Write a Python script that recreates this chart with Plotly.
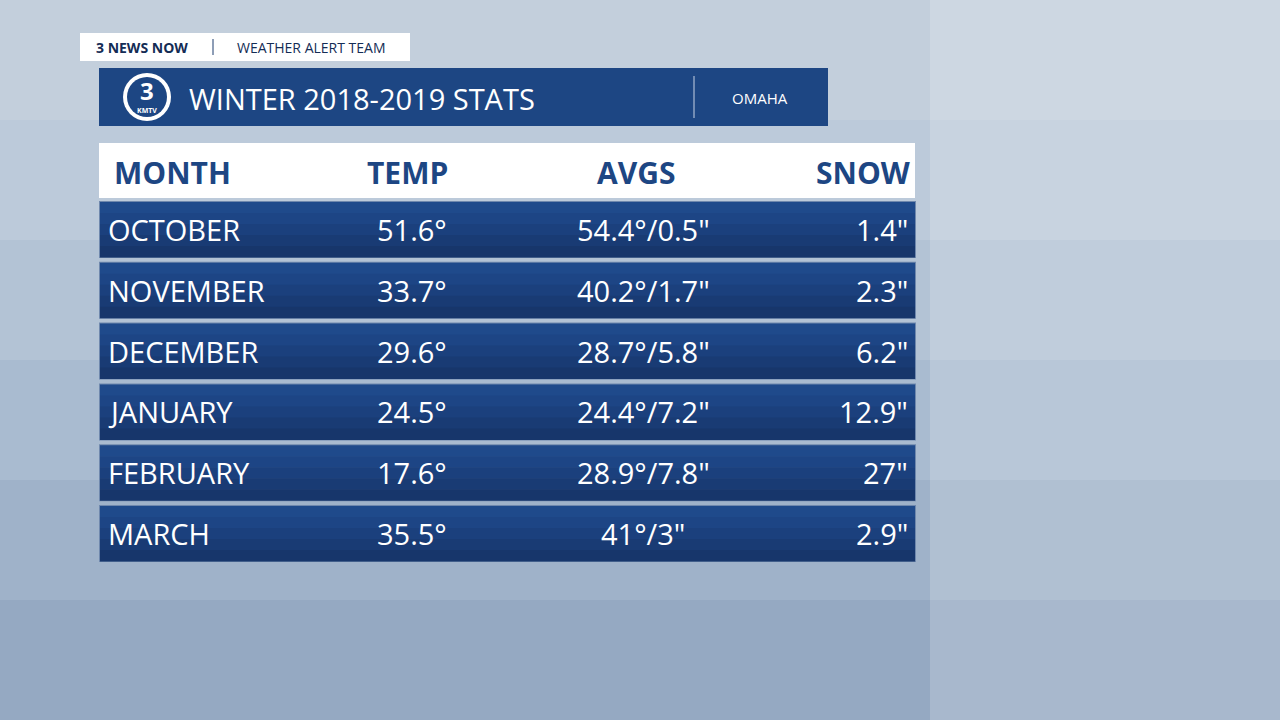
import plotly.graph_objects as go

months = ["OCTOBER", "NOVEMBER", "DECEMBER", "JANUARY", "FEBRUARY", "MARCH"]
temps = ["51.6°", "33.7°", "29.6°", "24.5°", "17.6°", "35.5°"]
avgs = ['54.4°/0.5"', '40.2°/1.7"', '28.7°/5.8"', '24.4°/7.2"', '28.9°/7.8"', '41°/3"']
snow = ['1.4"', '2.3"', '6.2"', '12.9"', '27"', '2.9"']
headers = ["MONTH", "TEMP", "AVGS", "SNOW"]

NAVY = "#1d4683"
F = "Open Sans"
fig = go.Figure()
shapes = []
ann = []

bg = ["#c3cfdc", "#bccada", "#b3c3d5", "#a9bbd0", "#9fb2c9", "#95a9c2"]
for i, c in enumerate(bg):
    shapes.append(dict(type="rect", x0=0, x1=1280, y0=i*120, y1=(i+1)*120, fillcolor=c, line_width=0, layer="below"))
shapes.append(dict(type="rect", x0=930, x1=1280, y0=0, y1=720, fillcolor="rgba(255,255,255,0.18)", line_width=0, layer="below"))

# tag
shapes.append(dict(type="rect", x0=80, x1=410, y0=33, y1=61, fillcolor="white", line_width=0))
shapes.append(dict(type="line", x0=213, x1=213, y0=39, y1=55, line=dict(color="#1d3c6e", width=1)))
ann.append(dict(x=142, y=47, text="<b>3 NEWS NOW</b>", font=dict(family=F, size=14, color="#142c55"), xanchor="center"))
ann.append(dict(x=311, y=47, text="WEATHER ALERT TEAM", font=dict(family=F, size=14, color="#142c55"), xanchor="center"))

# title bar
shapes.append(dict(type="rect", x0=99, x1=828, y0=68, y1=126, fillcolor=NAVY, line_width=0))
shapes.append(dict(type="circle", x0=123, x1=171, y0=73, y1=121, fillcolor="white", line_width=0))
shapes.append(dict(type="circle", x0=127, x1=167, y0=77, y1=117, fillcolor=NAVY, line_width=0))
ann.append(dict(x=147, y=90, text="<b>3</b>", font=dict(family=F, size=24, color="white"), xanchor="center"))
ann.append(dict(x=147, y=110, text="<b>KMTV</b>", font=dict(family=F, size=7, color="white"), xanchor="center"))
ann.append(dict(x=187, y=98, text="WINTER 2018-2019 STATS", font=dict(family=F, size=29, color="white"), xanchor="left"))
shapes.append(dict(type="line", x0=694, x1=694, y0=76, y1=118, line=dict(color="#c8d2e4", width=1)))
ann.append(dict(x=760, y=98, text="OMAHA", font=dict(family=F, size=15, color="white"), xanchor="center"))

# header
shapes.append(dict(type="rect", x0=99, x1=915, y0=143, y1=198, fillcolor="white", line_width=0))
hx = [(112, "left"), (407, "center"), (636, "center"), (912, "right")]
for h, (x, a) in zip(headers, hx):
    ann.append(dict(x=x, y=172, text=f"<b>{h}</b>", font=dict(family=F, size=30, color=NAVY), xanchor=a))

# rows
grad = ["#1f4a8b", "#1d4585", "#1b407d", "#193b74", "#17366b"]
cx = [(106, "left"), (412, "center"), (643, "center"), (910, "right")]
for i, row in enumerate(zip(months, temps, avgs, snow)):
    y0 = 201 + i * 60.8
    y1 = y0 + 57
    shapes.append(dict(type="rect", x0=99, x1=916, y0=y0, y1=y1, fillcolor="#6f88ad", line_width=0))
    h = (y1 - y0 - 2) / len(grad)
    for k, c in enumerate(grad):
        shapes.append(dict(type="rect", x0=100, x1=915, y0=y0 + 1 + k*h, y1=y0 + 1 + (k+1)*h + 0.5, fillcolor=c, line_width=0))
    for t, (x, a) in zip(row, cx):
        ann.append(dict(x=x, y=(y0 + y1) / 2, text=t, font=dict(family=F, size=29, color="white"), xanchor=a))

for a in ann:
    a.update(xref="x", yref="y", showarrow=False, yanchor="middle")

fig.update_layout(width=1280, height=720, margin=dict(l=0, r=0, t=0, b=0),
                  paper_bgcolor="#b3c3d5", plot_bgcolor="#b3c3d5",
                  xaxis=dict(range=[0, 1280], visible=False, fixedrange=True),
                  yaxis=dict(range=[720, 0], visible=False, fixedrange=True),
                  shapes=shapes, annotations=ann, showlegend=False)
fig.write_html("out.html", config={"displayModeBar": False})

with open("out.html", encoding="utf-8") as f:
    html = f.read()
html = html.replace("<head>", "<head><style>html,body{margin:0;padding:0;overflow:hidden;}</style>", 1)
with open("out.html", "w", encoding="utf-8") as f:
    f.write(html)
